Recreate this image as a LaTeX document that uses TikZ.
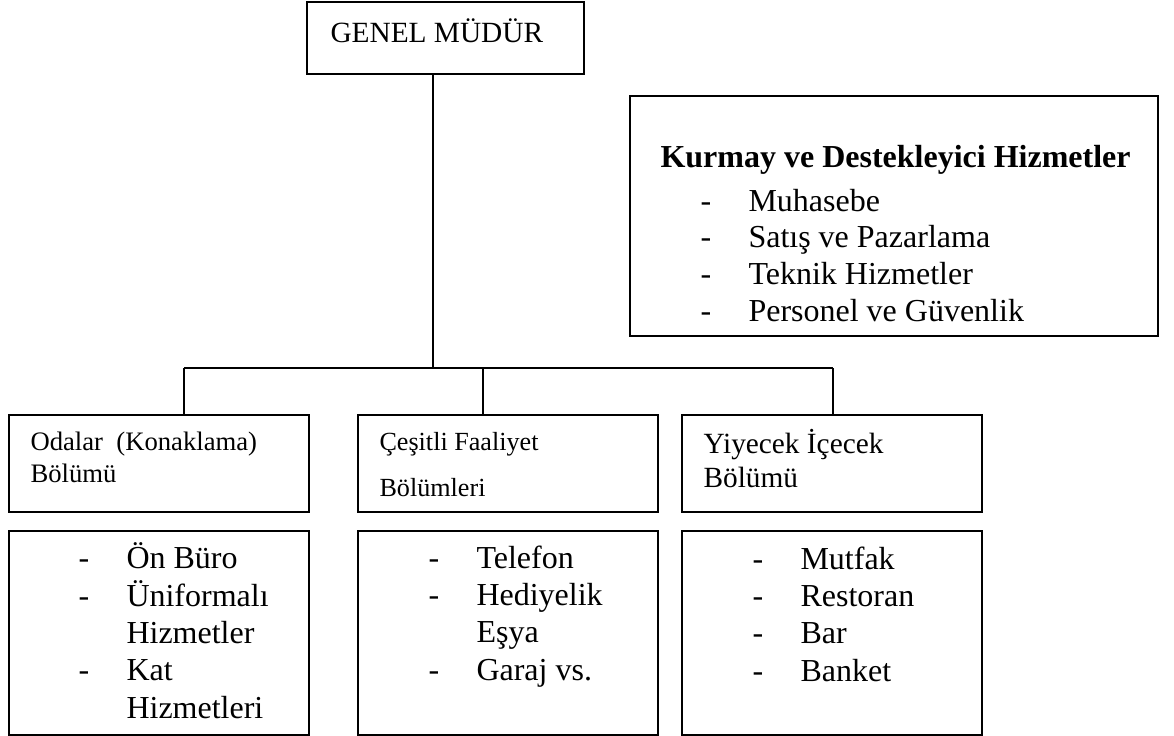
\documentclass[tikz,border=0pt]{standalone}
\usepackage{fontspec}
\setmainfont{Liberation Serif}
\usetikzlibrary{fit}

\tikzset{
  kutu/.style={draw, line width=0.8pt, inner sep=0pt, fit={#1}},
  % base = baseline of the last line
  yazi/.style={anchor=base west, align=left, inner sep=0pt},
  hat/.style={line width=0.8pt}
}
\newcommand{\tire}[1]{\makebox[18pt][l]{-}#1}
\newcommand{\devam}[1]{\hspace*{18pt}#1}

\begin{document}
\begin{tikzpicture}[x=0.375pt, y=-0.375pt]
\useasboundingbox (0,0) rectangle (1174,736);
% genel mudur
\node [kutu={(307,2) (584,74)}] (gm) {};
\node [yazi, font=\fontsize{11}{13}\selectfont] (gmtxt) at (330,42) {GENEL MÜDÜR};
% kurmay ve destekleyici hizmetler
\node [kutu={(630,96) (1158,336)}] (kurmay) {};
\node [yazi, font=\fontsize{12}{13.9}\selectfont\bfseries] (kurmaybaslik) at (660,167) {Kurmay ve Destekleyici Hizmetler};
\node [yazi, font=\fontsize{12}{13.75}\selectfont] (kurmaytxt) at (700,321)
  {\tire{Muhasebe}\\ \tire{Satış ve Pazarlama}\\ \tire{Teknik Hizmetler}\\ \tire{Personel ve Güvenlik}};
% bolumler
\node [kutu={(9,415) (309,512)}] (odalar) {};
\node [yazi, font=\fontsize{10}{12}\selectfont] (odalartxt) at (30,482) {Odalar\ \ (Konaklama)\\Bölümü};
\node [kutu={(358,415) (658,512)}] (cesitli) {};
\node [yazi, font=\fontsize{9.8}{17.25}\selectfont] (cesitlitxt) at (379,496) {Çeşitli Faaliyet\\Bölümleri};
\node [kutu={(682,415) (982,512)}] (yiyecek) {};
\node [yazi, font=\fontsize{11}{12.75}\selectfont] (yiyecektxt) at (703,487) {Yiyecek İçecek\\Bölümü};
% alt birimler
\node [kutu={(9,531) (309,735)}] (odalarlist) {};
\node [yazi, font=\fontsize{12}{13.97}\selectfont] (odalarlisttxt) at (78,718)
  {\tire{Ön Büro}\\ \tire{Üniformalı}\\ \devam{Hizmetler}\\ \tire{Kat}\\ \devam{Hizmetleri}};
\node [kutu={(358,531) (658,735)}] (cesitlilist) {};
\node [yazi, font=\fontsize{12}{13.9}\selectfont] (cesitlilisttxt) at (428,680)
  {\tire{Telefon}\\ \tire{Hediyelik}\\ \devam{Eşya}\\ \tire{Garaj vs.}};
\node [kutu={(682,531) (982,735)}] (yiyeceklist) {};
\node [yazi, font=\fontsize{12}{14}\selectfont] (yiyeceklisttxt) at (752,681)
  {\tire{Mutfak}\\ \tire{Restoran}\\ \tire{Bar}\\ \tire{Banket}};
% baglantilar
\coordinate (bar) at (433,368);
\coordinate (j1) at (184,368);
\coordinate (j2) at (483,368);
\coordinate (j3) at (833,368);
\draw [hat] (gm.south -| bar) -- (bar);
\draw [hat] (j1) -- (j3);
\draw [hat] (j1) -- (j1 |- odalar.north);
\draw [hat] (j2) -- (j2 |- cesitli.north);
\draw [hat] (j3) -- (j3 |- yiyecek.north);
\end{tikzpicture}
\end{document}
